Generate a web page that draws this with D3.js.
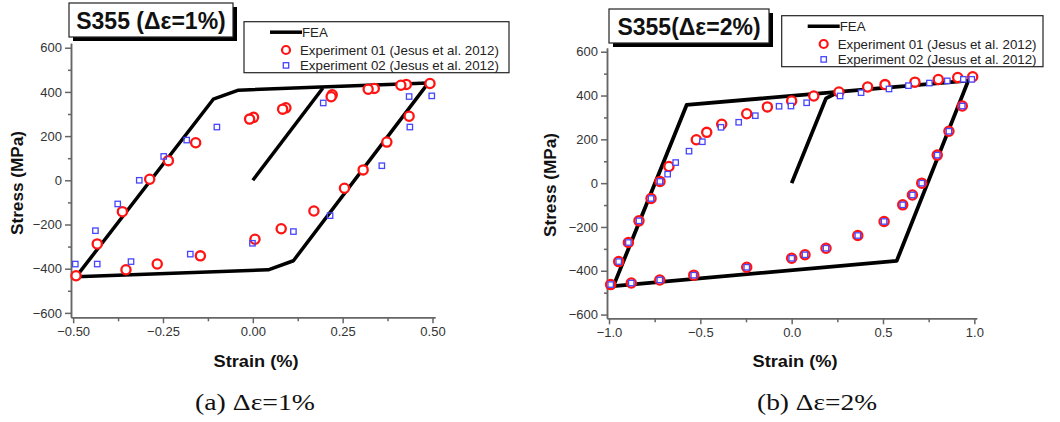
<!DOCTYPE html>
<html>
<head>
<meta charset="utf-8">
<script src="https://cdn.jsdelivr.net/npm/d3@7"></script>
<style>
  html, body { margin: 0; padding: 0; background: #fff; }
  svg { display: block; font-family: "Liberation Sans", Arial, sans-serif; }
</style>
</head>
<body>
<svg id="chart" width="1060" height="422"></svg>
<script>
// tick values
var yTicks = [-600, -400, -200, 0, 200, 400, 600];
var yMinor = [-500, -300, -100, 100, 300, 500];
var xTicksA = [-0.5, -0.25, 0, 0.25, 0.5];
var xMinorA = [-0.375, -0.125, 0.125, 0.375];
var xTicksB = [-1, -0.5, 0, 0.5, 1];
var xMinorB = [-0.75, -0.25, 0.25, 0.75];

// (a) 1% strain range: FEA hysteresis loop + initial loading, [strain %, stress MPa]
var feaLoopA = [[-0.492, -437], [-0.110, 367], [-0.040, 408], [0.488, 440], [0.113, -364], [0.043, -405], [-0.492, -437]];
var feaInitA = [[0, 0], [0.195, 418]];
var exp1A = [[0.493, 438], [0.427, 434], [0.412, 430], [0.338, 416], [0.321, 412], [0.221, 387], [0.218, 378],
  [0.092, 328], [0.083, 322], [0.002, 285], [-0.009, 277], [0.435, 290], [-0.159, 170], [-0.235, 89],
  [-0.287, 5], [-0.363, -142], [0.373, 173], [0.307, 47], [0.255, -36], [0.170, -139], [0.079, -219],
  [0.006, -267], [-0.433, -288], [-0.146, -342], [-0.266, -379], [-0.353, -405], [-0.492, -432]];
var exp2A = [[0.498, 382], [0.435, 379], [0.196, 350], [-0.100, 241], [0.437, 241], [-0.184, 182], [-0.248, 108],
  [-0.316, 0], [-0.376, -107], [-0.438, -228], [0.359, 66], [0.215, -160], [0.113, -232], [-0.001, -285],
  [-0.494, -379], [-0.433, -379], [-0.339, -368], [-0.174, -334]];

// (b) 2% strain range
var feaLoopB = [[-0.976, -470], [-0.575, 357], [0.967, 468], [0.575, -355], [-0.976, -470]];
var feaInitB = [[0, 0], [0.188, 387], [0.25, 414]];
var exp1B = [[0.991, 486], [0.909, 482], [0.803, 473], [0.675, 461], [0.511, 450], [0.416, 439], [0.259, 416],
  [0.121, 398], [0.000, 375], [-0.133, 348], [-0.246, 317], [-0.383, 269], [-0.465, 232], [-0.522, 198],
  [-0.672, 76], [-0.721, 8], [-0.770, -70], [-0.836, -172], [-0.894, -271], [-0.947, -358], [-0.991, -463],
  [-0.878, -456], [-0.722, -442], [-0.536, -420], [-0.246, -384], [0.000, -343], [0.073, -327], [0.188, -297],
  [0.362, -239], [0.506, -175], [0.608, -99], [0.661, -54], [0.712, 0], [0.797, 128], [0.861, 237], [0.934, 352]];
var exp2B = [[0.986, 474], [0.940, 474], [0.852, 467], [0.754, 457], [0.639, 445], [0.533, 430], [0.380, 413],
  [0.265, 398], [0.082, 367], [-0.004, 352], [-0.069, 351], [-0.199, 308], [-0.290, 278], [-0.387, 255],
  [-0.489, 189], [-0.562, 146], [-0.635, 94], [-0.679, 41], [-0.721, 8], [-0.770, -70], [-0.836, -172],
  [-0.894, -271], [-0.947, -358], [-0.991, -463], [-0.878, -456], [-0.722, -442], [-0.536, -420], [-0.246, -384],
  [0.000, -343], [0.073, -327], [0.188, -297], [0.362, -239], [0.506, -175], [0.608, -99], [0.661, -54],
  [0.712, 0], [0.797, 128], [0.861, 237], [0.934, 352]];

var legendLabels = ["FEA", "Experiment 01 (Jesus et al. 2012)", "Experiment 02 (Jesus et al. 2012)"];

var svg = d3.select("#chart");

function drawPanel(p) {
  var x = d3.scaleLinear().domain(p.xDomain).range(p.xRange);
  var y = d3.scaleLinear().domain(p.yDomain).range(p.yRange);
  var g = svg.append("g");

  // axes
  g.append("g").attr("transform", "translate(" + p.xRange[0] + ",0)")
    .call(d3.axisLeft(y).tickValues(yTicks).tickSize(6).tickSizeOuter(0).tickPadding(3));
  g.append("g").attr("transform", "translate(" + p.xRange[0] + ",0)")
    .call(d3.axisLeft(y).tickValues(yMinor).tickSize(3).tickSizeOuter(0).tickFormat(""));
  g.append("g").attr("transform", "translate(0," + p.yRange[0] + ")")
    .call(d3.axisBottom(x).tickValues(p.xTicks).tickSize(6).tickSizeOuter(0).tickPadding(3)
      .tickFormat(d3.format(p.fmt)));
  g.append("g").attr("transform", "translate(0," + p.yRange[0] + ")")
    .call(d3.axisBottom(x).tickValues(p.xMinor).tickSize(4).tickSizeOuter(0).tickFormat(""));
  g.selectAll(".domain, .tick line").attr("stroke", "#666").attr("stroke-width", 1.5);
  g.selectAll(".tick text").attr("fill", "#333").style("font-size", "13px")
    .style("font-family", "Liberation Sans, Arial, sans-serif");

  // axis labels
  g.append("text").attr("x", p.xLabelX).attr("y", 367).attr("text-anchor", "middle")
    .attr("textLength", 85).attr("lengthAdjust", "spacingAndGlyphs")
    .style("font-weight", "bold").style("font-size", "16px").attr("fill", "#111").text("Strain (%)");
  g.append("text").attr("transform", "translate(" + p.yLabelX + "," + p.yLabelY + ") rotate(-90)")
    .attr("text-anchor", "middle").attr("textLength", 104).attr("lengthAdjust", "spacingAndGlyphs")
    .style("font-weight", "bold").style("font-size", "16px").attr("fill", "#111").text("Stress (MPa)");

  // FEA curves
  var line = d3.line().x(function (d) { return x(d[0]); }).y(function (d) { return y(d[1]); });
  [p.loop, p.init].forEach(function (pts) {
    g.append("path").attr("d", line(pts)).attr("fill", "none").attr("stroke", "#000")
      .attr("stroke-width", p.lw).attr("stroke-linejoin", "round");
  });

  // experiments
  g.selectAll("circle.e1").data(p.exp1).enter().append("circle").attr("class", "e1")
    .attr("cx", function (d) { return x(d[0]); }).attr("cy", function (d) { return y(d[1]); })
    .attr("r", 4.6).attr("fill", "#fff").attr("stroke", "#ff1414").attr("stroke-width", 2.3);
  g.selectAll("rect.e2").data(p.exp2).enter().append("rect").attr("class", "e2")
    .attr("x", function (d) { return x(d[0]) - 2.7; }).attr("y", function (d) { return y(d[1]) - 2.7; })
    .attr("width", 5.4).attr("height", 5.4).attr("fill", p.sqFill).attr("stroke", "#4646ff").attr("stroke-width", 1.3);

  // legend
  var L = p.legend;
  var lg = g.append("g");
  lg.append("rect").attr("x", L.x).attr("y", L.y).attr("width", L.w).attr("height", 51)
    .attr("fill", "#fff").attr("stroke", "#222").attr("stroke-width", 1.2);
  lg.append("line").attr("x1", L.x + 26).attr("x2", L.x + 58).attr("y1", L.y + 10.5).attr("y2", L.y + 10.5)
    .attr("stroke", "#000").attr("stroke-width", 3.5);
  lg.append("circle").attr("cx", L.x + 42).attr("cy", L.y + 28.3).attr("r", 4)
    .attr("fill", "#fff").attr("stroke", "#ff1414").attr("stroke-width", 2.2);
  lg.append("rect").attr("x", L.x + 39.3).attr("y", L.y + 41).attr("width", 5.4).attr("height", 5.4)
    .attr("fill", "#fff").attr("stroke", "#4646ff").attr("stroke-width", 1.3);
  lg.selectAll("text").data(legendLabels).enter().append("text")
    .attr("x", function (d, i) { return i === 0 ? L.x + 58 : L.x + 56; })
    .attr("y", function (d, i) { return L.y + [15, 33, 48.5][i]; })
    .style("font-size", "13.3px").attr("fill", "#222").text(function (d) { return d; });

  // title box with shadow
  var T = p.title;
  g.append("rect").attr("x", T.x + 4).attr("y", T.y + 4).attr("width", T.w).attr("height", 34).attr("fill", "#000");
  g.append("rect").attr("x", T.x).attr("y", T.y).attr("width", T.w).attr("height", 34)
    .attr("fill", "#fff").attr("stroke", "#222").attr("stroke-width", 1.2);
  g.append("text").attr("x", T.x + T.w / 2).attr("y", T.y + 26).attr("text-anchor", "middle")
    .style("font-weight", "bold").style("font-size", "23px").attr("fill", "#111").text(T.text);

  // caption
  svg.append("text").attr("x", p.capX).attr("y", 410).attr("text-anchor", "middle")
    .attr("textLength", 120).attr("lengthAdjust", "spacingAndGlyphs")
    .style("font-family", "Liberation Serif, Times New Roman, serif").style("font-size", "24px")
    .attr("fill", "#111").text(p.caption);
}

drawPanel({
  xDomain: [-0.506, 0.507], xRange: [71, 435], yDomain: [-620, 620], yRange: [317.3, 43.3],
  xTicks: xTicksA, xMinor: xMinorA, fmt: ".2f", lw: 3.5,
  loop: feaLoopA, init: feaInitA, exp1: exp1A, exp2: exp2A, sqFill: "none",
  xLabelX: 256, yLabelX: 23, yLabelY: 183,
  legend: { x: 244, y: 21.7, w: 265 },
  title: { x: 69, y: 3, w: 164, text: "S355 (\u0394\u03b5=1%)" },
  capX: 255, caption: "(a) \u0394\u03b5=1%"
});
drawPanel({
  xDomain: [-1.011, 1.013], xRange: [607, 976.7], yDomain: [-617, 617], yRange: [318.3, 48],
  xTicks: xTicksB, xMinor: xMinorB, fmt: ".1f", lw: 3.8,
  loop: feaLoopB, init: feaInitB, exp1: exp1B, exp2: exp2B, sqFill: "#fff",
  xLabelX: 795, yLabelX: 556, yLabelY: 185,
  legend: { x: 781.7, y: 15.7, w: 261.3 },
  title: { x: 609, y: 9, w: 160, text: "S355(\u0394\u03b5=2%)" },
  capX: 817, caption: "(b) \u0394\u03b5=2%"
});
</script>
</body>
</html>
